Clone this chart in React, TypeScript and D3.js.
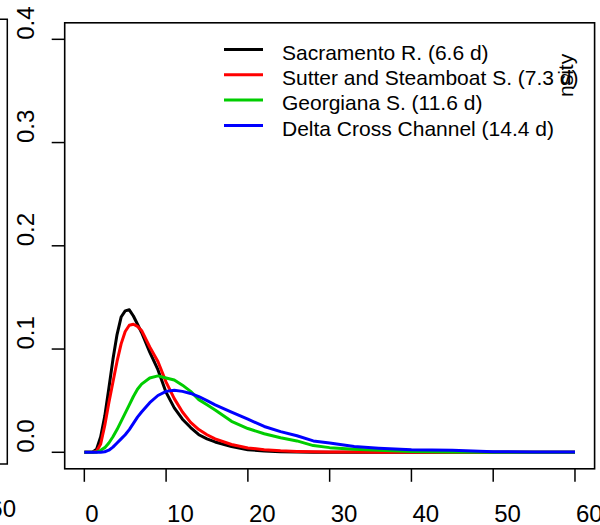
import React from "react";
import * as d3 from "d3";

const xs = [0, 1, 1.5, 2, 2.5, 3, 3.5, 4, 4.5, 5, 5.5, 6, 6.5, 7, 8, 9, 10, 11, 12, 13, 14, 15, 16, 18, 20, 22, 24, 26, 28, 30, 33, 36, 40, 45, 50, 55, 60];

const sacramento = [0, 0, 0.003, 0.015, 0.035, 0.062, 0.09, 0.114, 0.131, 0.137, 0.138, 0.132, 0.124, 0.116, 0.097, 0.08, 0.058, 0.043, 0.032, 0.024, 0.017, 0.013, 0.01, 0.0055, 0.0025, 0.0013, 0.0005, 0.0002, 0, 0, 0, 0, 0, 0, 0, 0, 0];
const sutter = [0, 0, 0.001, 0.008, 0.026, 0.048, 0.068, 0.088, 0.105, 0.117, 0.123, 0.124, 0.122, 0.118, 0.102, 0.088, 0.068, 0.052, 0.039, 0.029, 0.022, 0.017, 0.013, 0.0075, 0.0042, 0.0025, 0.0014, 0.0008, 0.0005, 0.0003, 0.0002, 0.0001, 0, 0, 0, 0, 0];
const georgiana = [0, 0, 0, 0.002, 0.0045, 0.009, 0.015, 0.022, 0.03, 0.038, 0.046, 0.054, 0.061, 0.066, 0.072, 0.074, 0.072, 0.07, 0.065, 0.059, 0.051, 0.046, 0.041, 0.03, 0.023, 0.018, 0.014, 0.011, 0.0065, 0.0045, 0.003, 0.002, 0.0008, 0.0002, 0, 0, 0];
const deltaCross = [0, 0, 0, 0, 0.0005, 0.002, 0.005, 0.009, 0.013, 0.017, 0.022, 0.028, 0.034, 0.039, 0.048, 0.055, 0.059, 0.06, 0.059, 0.057, 0.054, 0.05, 0.046, 0.039, 0.032, 0.025, 0.02, 0.016, 0.011, 0.009, 0.0055, 0.004, 0.0025, 0.002, 0.0006, 0.0003, 0.0002];

const seriesNames = ["Sacramento R. (6.6 d)", "Sutter and Steamboat S. (7.3 d)", "Georgiana S. (11.6 d)", "Delta Cross Channel (14.4 d)"];
const seriesColors = ["#000000", "#ff0000", "#00cd00", "#0000ff"];
const seriesValues = [sacramento, sutter, georgiana, deltaCross];

const xTicks = [0, 10, 20, 30, 40, 50, 60];
const yTicks = [0, 0.1, 0.2, 0.3, 0.4];
const yTickLabels = ["0.0", "0.1", "0.2", "0.3", "0.4"];

const FONT = "'Liberation Sans', Arial, Helvetica, sans-serif";

export default function App() {
  const x = d3.scaleLinear().domain([-2.4, 62.4]).range([64.7, 594.6]);
  const y = d3.scaleLinear().domain([-0.016, 0.416]).range([468.8, 22.8]);
  const line = d3
    .line<number>()
    .x((_, i) => x(xs[i]))
    .y((v) => y(v));

  const [x0, x1] = x.range();
  const [y0, y1] = y.range();

  return (
    <svg
      width={600}
      height={525}
      style={{ position: "absolute", left: 0, top: 0, background: "#fff" }}
      fontFamily={FONT}
    >
      <rect x={0} y={0} width={600} height={525} fill="#fff" />
      {/* neighbouring panel fragment */}
      <path d="M0,19.3 H7.3 V464 H0" fill="none" stroke="#000" strokeWidth={1.5} />
      <text x={16} y={517} fontSize={24} textAnchor="end">60</text>

      {/* curves */}
      {seriesValues.map((vals, i) => (
        <path
          key={i}
          d={line(vals) || ""}
          fill="none"
          stroke={seriesColors[i]}
          strokeWidth={3}
          strokeLinejoin="round"
        />
      ))}

      {/* box */}
      <rect x={x0} y={y1} width={x1 - x0} height={y0 - y1} fill="none" stroke="#000" strokeWidth={1.6} />

      {/* x axis */}
      {xTicks.map((t) => (
        <g key={t}>
          <line x1={x(t)} x2={x(t)} y1={y0} y2={y0 + 13} stroke="#000" strokeWidth={1.5} />
          <text x={x(t) + 1} y={522} fontSize={24} textAnchor="start">
            {t}
          </text>
        </g>
      ))}

      {/* y axis */}
      {yTicks.map((t, i) => (
        <g key={t}>
          <line x1={x0 - 13} x2={x0} y1={y(t)} y2={y(t)} stroke="#000" strokeWidth={1.5} />
          <text
            transform={`translate(34,${y(t) + 0.5}) rotate(-90)`}
            fontSize={24}
            textAnchor="start"
          >
            {yTickLabels[i]}
          </text>
        </g>
      ))}

      {/* legend */}
      {seriesNames.map((name, i) => (
        <g key={name}>
          <line
            x1={224}
            x2={263}
            y1={49.5 + i * 25.3}
            y2={49.5 + i * 25.3}
            stroke={seriesColors[i]}
            strokeWidth={3}
          />
          <text x={282} y={60 + i * 25.2} fontSize={21}>
            {name}
          </text>
        </g>
      ))}

      {/* stray axis label fragment */}
      <text transform="translate(573,97) rotate(-90)" fontSize={21} textAnchor="start">
        nsity
      </text>
    </svg>
  );
}
